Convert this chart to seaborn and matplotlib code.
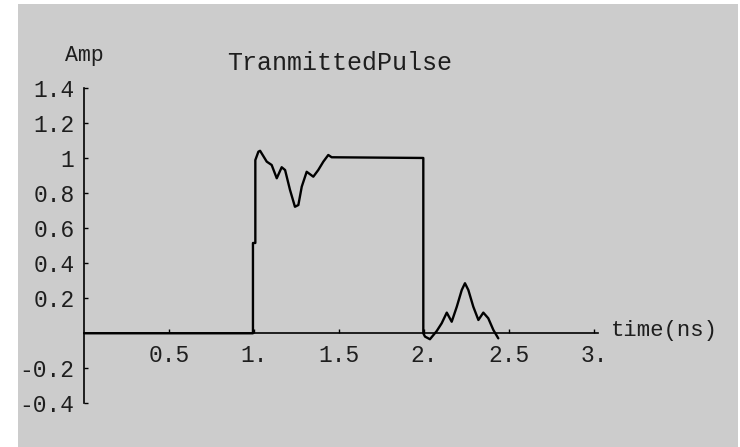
import matplotlib
matplotlib.use("Agg")
import matplotlib.pyplot as plt
import seaborn as sns
import pandas as pd

# ---- data ----
time_ns = [0.0, 0.992, 0.992, 1.006, 1.006, 1.024, 1.034, 1.073, 1.102, 1.132,
           1.161, 1.181, 1.210, 1.239, 1.259, 1.279, 1.308, 1.347, 1.376, 1.406,
           1.435, 1.455, 1.994, 1.994, 2.004, 2.033, 2.073, 2.102, 2.132, 2.161,
           2.191, 2.220, 2.239, 2.259, 2.288, 2.318, 2.347, 2.376, 2.406, 2.435]
amp = [0.0, 0.0, 0.516, 0.516, 0.99, 1.038, 1.043, 0.981, 0.962, 0.886,
       0.949, 0.933, 0.819, 0.723, 0.733, 0.838, 0.923, 0.895, 0.933, 0.981,
       1.019, 1.006, 1.002, 0.0, -0.019, -0.034, 0.013, 0.057, 0.118, 0.066,
       0.152, 0.247, 0.286, 0.247, 0.152, 0.076, 0.118, 0.086, 0.019, -0.029]

x_ticks = [0.5, 1.0, 1.5, 2.0, 2.5, 3.0]
x_tick_labels = ["0.5", "1.", "1.5", "2.", "2.5", "3."]
y_ticks = [-0.4, -0.2, 0.2, 0.4, 0.6, 0.8, 1.0, 1.2, 1.4]
y_tick_labels = ["-0.4", "-0.2", "0.2", "0.4", "0.6", "0.8", "1", "1.2", "1.4"]

title_text = "TranmittedPulse"
x_label = "time(ns)"
y_label = "Amp"

df = pd.DataFrame({"t": time_ns, "amp": amp})

sns.set_theme(style="white")
plt.rcParams["font.family"] = ["Liberation Mono", "DejaVu Sans Mono"]

GRAY = "#cccccc"
W, H = 740, 447
fig = plt.figure(figsize=(W / 100, H / 100), dpi=100, facecolor="white")
ax = fig.add_axes([18 / W, 0, 720 / W, 443 / H])
ax.set_facecolor(GRAY)

sns.lineplot(data=df, x="t", y="amp", ax=ax, estimator=None, sort=False,
             color="black", linewidth=1.7)

ax.set_xlim(-0.390, 3.845)
ax.set_ylim(-0.650, 1.882)

for side in ["top", "right"]:
    ax.spines[side].set_visible(False)
ax.spines["left"].set_position(("data", 0))
ax.spines["bottom"].set_position(("data", 0))
ax.spines["left"].set_bounds(-0.4, 1.4)
ax.spines["bottom"].set_bounds(0, 3.02)
for side in ["left", "bottom"]:
    ax.spines[side].set_color("black")
    ax.spines[side].set_linewidth(1.2)

ax.set_xticks(x_ticks)
ax.set_xticklabels(x_tick_labels)
ax.set_yticks(y_ticks)
ax.set_yticklabels(y_tick_labels)
ax.tick_params(axis="x", direction="in", length=3, width=1, color="black",
               pad=8, labelsize=16.5, bottom=True)
ax.tick_params(axis="y", direction="in", length=3, width=1, color="black",
               pad=7, labelsize=16.5, left=True)
for lab in ax.get_xticklabels() + ax.get_yticklabels():
    lab.set_color("#1e1e1e")

ax.set_xlabel("")
ax.set_ylabel("")
ax.text(0.0, 1.59, y_label, ha="center", va="center", fontsize=15.5, color="#1e1e1e")
ax.text(3.1, 0.015, x_label, ha="left", va="center", fontsize=16, color="#1e1e1e")
ax.text(1.5, 1.543, title_text, ha="center", va="center", fontsize=18, color="#1e1e1e")

fig.savefig("out.png", dpi=100, facecolor="white")
